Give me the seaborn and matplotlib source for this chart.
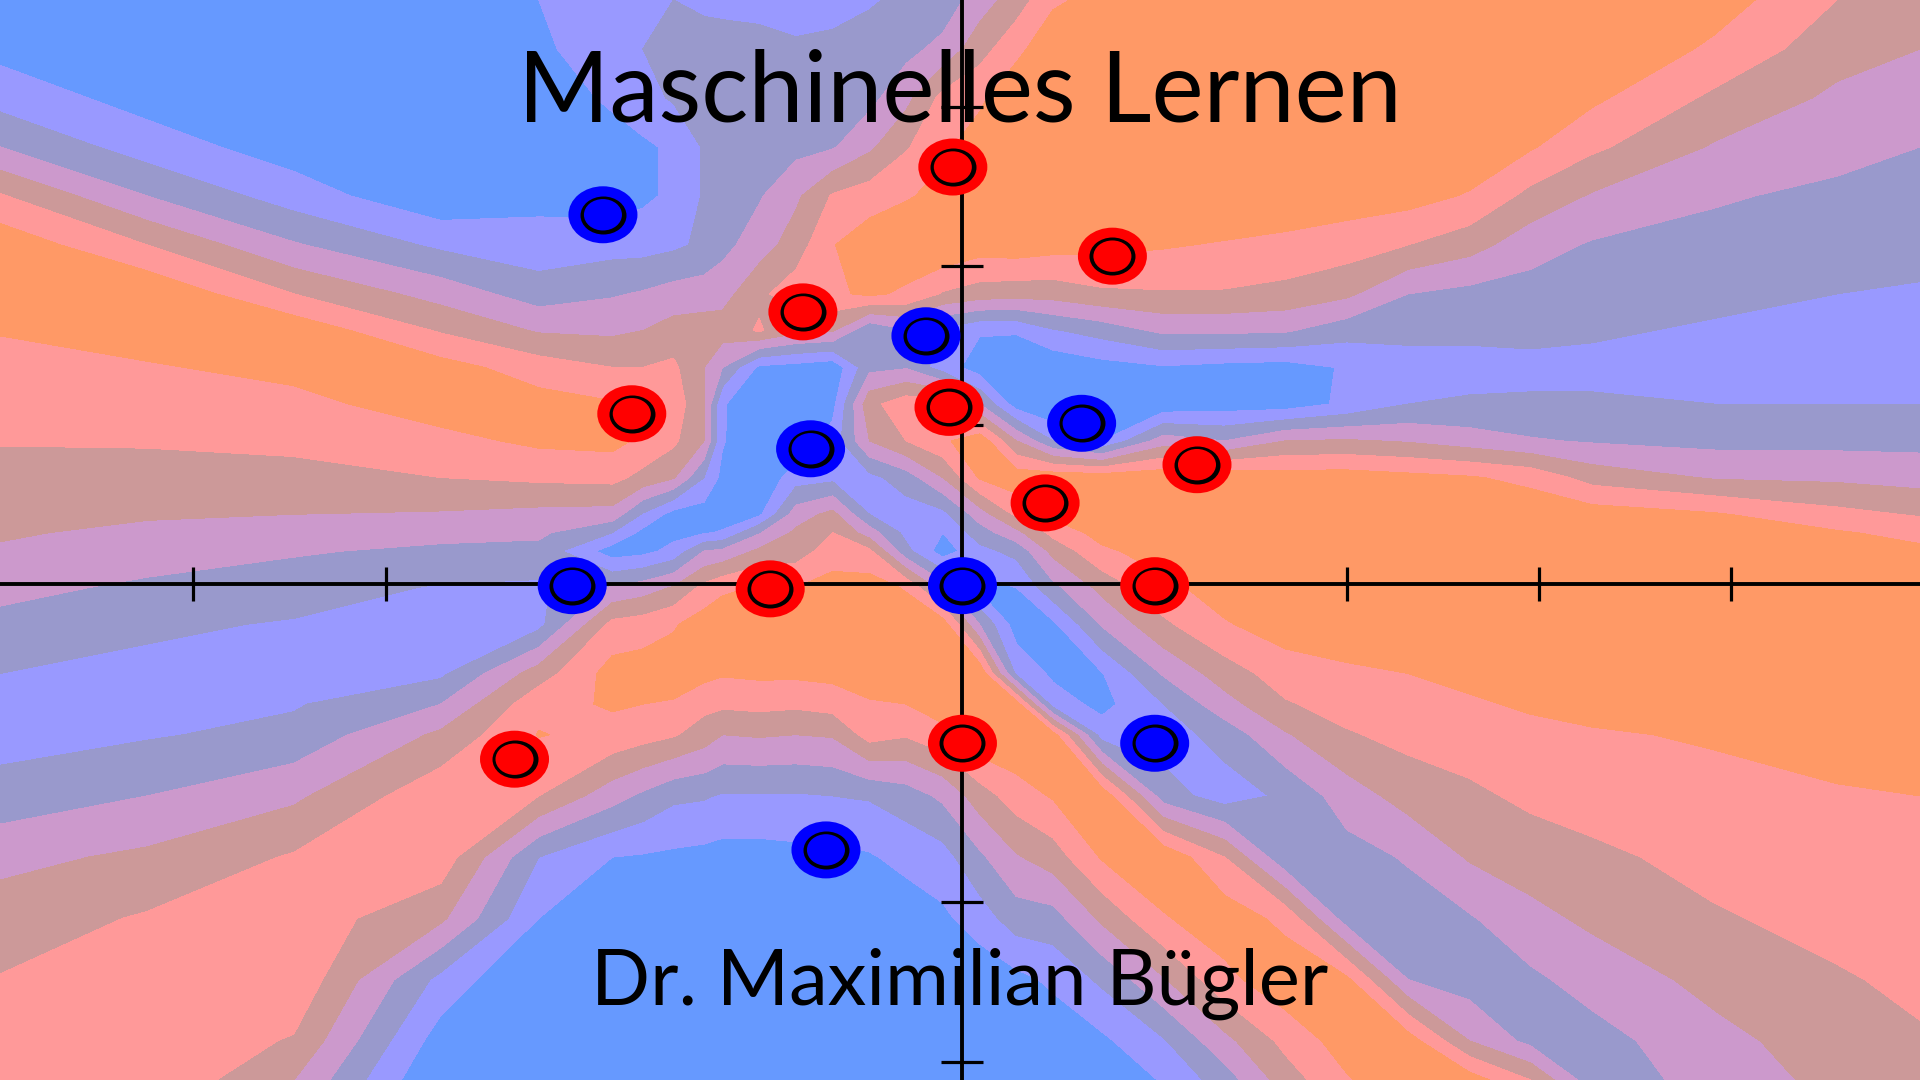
import numpy as np
import pandas as pd
import matplotlib
matplotlib.use("Agg")
import matplotlib.pyplot as plt
from matplotlib.path import Path
from matplotlib.transforms import Affine2D
import seaborn as sns

# ---- data ----
title = "Maschinelles Lernen"
subtitle = "Dr. Maximilian Bügler"

blue_x = [-1.87, -0.19, 0.62, -0.79, -2.03, 0.0, 1.0, -0.71]
blue_y = [2.32, 1.56, 1.01, 0.85, -0.01, -0.01, -1.0, -1.67]
red_x = [-0.05, 0.78, -0.83, -1.72, -0.07, 1.22, 0.43, -1.0, 1.0, -2.33, 0.0]
red_y = [2.62, 2.06, 1.71, 1.07, 1.11, 0.75, 0.51, -0.03, -0.01, -1.1, -1.0]

x_ticks = [-4, -3, -2, -1, 1, 2, 3, 4]
y_ticks = [-3, -2, -1, 1, 2, 3]

# decision surface: 0 blue ... 6 orange
band_colors = ["#6699FF", "#9999FF", "#9999CC", "#CC99CC", "#CC9999", "#FF9999", "#FF9966"]
band_edges = [-10, 0.5, 1.5, 2.5, 3.5, 4.5, 5.5, 10]

grid_x = [0, 120, 240, 360, 440, 500, 525, 550, 575, 590, 620, 650, 680, 710, 740, 770, 800,
          830, 860, 900, 950, 1000, 1050, 1100, 1150, 1200, 1250, 1300, 1400, 1500, 1568]
grid_y = [0, 40, 80, 120, 160, 200, 240, 270, 300, 330, 360, 390, 420, 435, 450, 480, 510,
          550, 575, 600, 650, 700, 750, 800, 850, 882]

# one list per grid_x entry
surface = [
    [-0.6, 0.2, 1.1, 2.5, 4.6, 6.2, 6.5, 5.55, 5.2, 4.9, 4.55, 4.2, 3.8, 3.6, 3.4, 2.8, 2.2, 1.5, 1.3, 1.1, 1.9, 3.2, 4.0, 4.55, 5.0, 5.3],
    [-1.5, -1.0, 0.1, 1.0, 2.5, 4.5, 6.4, 6.0, 5.4, 5.0, 4.6, 4.1, 3.6, 3.3, 3.0, 2.3, 1.7, 1.2, 1.2, 1.4, 2.5, 3.7, 4.6, 5.2, 5.3, 5.4],
    [-1.5, -1.5, -1.0, 0.0, 1.0, 2.6, 4.5, 6.2, 5.8, 5.2, 4.8, 4.1, 3.5, 3.1, 2.6, 2.0, 1.4, 1.1, 1.4, 1.8, 3.3, 4.6, 5.1, 5.3, 4.4, 3.5],
    [-0.6, -1.0, -1.5, -1.2, -0.3, 1.3, 3.1, 4.4, 5.9, 6.0, 5.2, 4.5, 3.4, 2.8, 2.3, 1.4, 1.2, 1.3, 2.5, 3.7, 5.2, 5.1, 3.7, 1.2, 0.0, -0.6],
    [0.5, 0.3, -0.2, -0.7, 0.2, 0.9, 2.0, 3.4, 5.0, 5.9, 5.7, 4.7, 3.2, 2.7, 2.2, 1.3, 1.2, 4.0, 5.2, 5.55, 4.5, 1.5, 0.5, -0.7, -1.3, -1.5],
    [1.3, 1.1, 0.7, 0.0, 0.0, 1.1, 2.4, 3.3, 4.5, 5.6, 5.8, 4.8, 3.1, 1.5, 0.0, 2.6, 4.8, 5.9, 5.6, 5.2, 2.9, 0.5, -0.3, -0.9, -1.3, -1.5],
    [1.4, 1.5, 1.2, 0.3, 0.3, 1.1, 2.6, 3.5, 4.5, 5.2, 5.3, 4.2, 1.4, 0.2, 0.2, 3.0, 5.0, 6.0, 5.5, 4.9, 2.3, 0.4, -0.3, -0.9, -1.3, -1.5],
    [1.5, 1.8, 1.6, 0.7, 0.7, 1.3, 2.9, 3.9, 4.7, 5.1, 4.7, 3.6, 0.1, 0.2, 0.8, 3.6, 5.4, 6.0, 5.4, 4.6, 1.7, 0.3, -0.3, -0.8, -1.2, -1.5],
    [1.3, 1.9, 1.9, 1.6, 1.6, 1.7, 3.0, 4.0, 3.5, 3.6, 3.5, 1.5, 0.0, 0.4, 2.5, 4.8, 6.0, 5.8, 4.8, 4.0, 1.6, 0.2, -0.3, -0.9, -1.3, -1.5],
    [1.3, 1.8, 2.0, 2.0, 2.0, 2.2, 3.1, 4.0, 2.5, 0.6, 0.6, 0.2, 0.0, 0.6, 2.7, 5.3, 6.2, 5.6, 4.7, 3.5, 1.4, 0.1, -0.4, -0.9, -1.3, -1.5],
    [1.3, 1.7, 2.0, 2.2, 2.4, 3.0, 4.3, 4.6, 0.3, -0.3, -0.5, -0.3, 0.3, 2.4, 3.7, 5.6, 6.3, 5.7, 4.8, 3.6, 1.4, 0.1, -0.5, -1.0, -1.4, -1.6],
    [1.2, 1.6, 2.0, 2.2, 3.3, 4.0, 5.0, 3.8, 0.1, -0.4, -0.4, 1.0, 3.0, 3.7, 4.0, 5.5, 6.3, 5.7, 4.7, 3.5, 1.4, 0.2, -0.5, -1.0, -1.4, -1.6],
    [1.2, 1.7, 1.9, 2.4, 4.6, 5.45, 5.3, 3.6, -0.2, 0.2, 0.9, 1.2, 3.8, 4.5, 5.0, 5.9, 6.3, 5.8, 4.9, 3.6, 1.5, 0.2, -0.4, -1.0, -1.4, -1.6],
    [1.4, 1.9, 2.2, 3.3, 5.0, 6.1, 5.7, 1.6, 2.2, 4.2, 3.5, 1.2, 1.5, 3.0, 4.7, 6.0, 6.4, 6.0, 5.4, 4.9, 1.6, 0.4, -0.3, -0.9, -1.4, -1.6],
    [1.7, 2.2, 3.2, 4.4, 5.4, 6.3, 5.3, 2.4, 2.4, 5.1, 4.5, 2.0, 1.0, 1.2, 1.8, 5.4, 6.2, 6.1, 5.5, 4.6, 2.0, 0.8, -0.1, -0.8, -1.3, -1.6],
    [1.9, 2.8, 4.8, 5.3, 5.8, 6.4, 4.4, 1.2, 1.0, 5.2, 5.3, 3.5, 1.2, 0.5, 0.0, 3.0, 6.0, 6.5, 6.0, 5.2, 2.7, 1.1, 0.3, -0.5, -1.1, -1.4],
    [3.0, 4.1, 5.3, 6.0, 6.4, 6.0, 4.0, 0.6, 0.0, 2.5, 6.2, 5.6, 3.0, 2.0, 1.2, 0.2, 2.5, 6.3, 6.4, 6.3, 4.0, 2.3, 1.0, -0.2, -0.9, -1.3],
    [4.0, 5.2, 6.3, 6.5, 6.5, 6.1, 3.9, 0.6, -0.3, 0.0, 3.5, 6.1, 4.7, 3.2, 1.8, 0.5, 0.0, 1.3, 6.0, 6.4, 5.0, 3.4, 2.0, 0.2, -0.6, -1.1],
    [5.3, 6.3, 6.5, 6.5, 6.5, 5.9, 3.9, 1.4, -0.3, -0.5, 1.5, 6.2, 5.8, 4.8, 3.8, 2.2, 0.3, 0.3, 1.0, 5.9, 5.6, 4.0, 2.1, 0.7, -0.2, -0.8],
    [5.9, 6.5, 6.5, 6.5, 6.5, 5.8, 4.3, 1.9, 0.1, -0.5, 0.5, 6.1, 6.2, 5.9, 5.3, 3.8, 2.6, 0.45, 0.2, 1.0, 6.2, 5.6, 3.7, 1.7, 0.3, -0.4],
    [6.5, 6.5, 6.5, 6.5, 6.5, 5.6, 4.4, 2.7, 0.4, -0.2, 3.0, 6.2, 6.5, 6.3, 6.0, 5.2, 4.3, 2.6, 1.5, 1.0, 2.0, 6.3, 5.4, 3.4, 1.4, 0.6],
    [6.5, 6.5, 6.5, 6.5, 6.5, 5.4, 4.4, 2.7, 0.2, 0.0, 2.5, 6.2, 6.5, 6.5, 6.5, 6.0, 5.4, 4.0, 3.1, 1.9, 1.0, 4.5, 6.1, 5.2, 3.2, 2.0],
    [6.5, 6.5, 6.5, 6.5, 6.3, 5.2, 4.2, 2.6, 0.1, 0.0, 3.5, 6.0, 6.5, 6.5, 6.5, 6.5, 6.0, 5.0, 4.4, 3.4, 1.7, 1.7, 5.2, 6.2, 4.8, 4.0],
    [6.5, 6.5, 6.5, 6.5, 6.0, 5.0, 3.7, 1.9, 0.6, 0.7, 3.6, 6.0, 6.5, 6.5, 6.5, 6.5, 6.2, 5.3, 4.9, 4.4, 3.0, 2.1, 2.0, 5.7, 6.0, 5.4],
    [6.5, 6.5, 6.5, 6.5, 5.9, 4.5, 2.5, 1.7, 1.2, 1.5, 3.4, 5.8, 6.4, 6.5, 6.5, 6.5, 6.2, 5.5, 5.2, 4.8, 3.9, 2.6, 2.0, 2.5, 6.0, 6.3],
    [6.5, 6.5, 6.5, 6.3, 5.4, 3.9, 2.2, 1.7, 1.2, 1.6, 3.0, 5.6, 6.4, 6.5, 6.5, 6.5, 6.4, 5.7, 5.4, 5.0, 4.3, 3.6, 2.4, 2.0, 3.5, 6.0],
    [6.5, 6.5, 6.2, 5.6, 4.2, 2.9, 2.1, 1.7, 1.3, 1.6, 2.6, 5.2, 6.2, 6.4, 6.5, 6.5, 6.5, 6.0, 5.6, 5.3, 4.7, 4.0, 3.2, 2.3, 2.2, 4.5],
    [6.5, 6.5, 5.7, 4.7, 3.4, 2.4, 2.0, 1.6, 1.3, 1.6, 2.4, 4.1, 6.0, 6.3, 6.4, 6.5, 6.5, 6.2, 5.8, 5.4, 4.9, 4.3, 3.7, 2.9, 2.1, 1.9],
    [6.0, 5.3, 4.3, 3.4, 2.6, 2.2, 1.7, 1.4, 1.2, 1.5, 2.2, 3.4, 5.6, 6.0, 6.3, 6.5, 6.5, 6.4, 6.0, 5.6, 5.2, 4.8, 4.4, 3.8, 3.2, 2.9],
    [4.5, 3.9, 3.3, 2.8, 2.3, 1.9, 1.5, 1.3, 1.2, 1.5, 2.2, 3.3, 4.8, 5.6, 6.1, 6.4, 6.5, 6.4, 6.2, 5.9, 5.4, 5.1, 4.8, 4.4, 4.0, 3.8],
    [3.9, 3.5, 3.0, 2.5, 2.1, 1.8, 1.4, 1.2, 1.2, 1.5, 2.2, 3.1, 4.4, 5.2, 5.7, 6.2, 6.5, 6.5, 6.3, 6.0, 5.5, 5.2, 5.0, 4.7, 4.4, 4.2],
]

# ---- setup ----
sns.set_theme(style="white")
plt.rcParams["font.family"] = ["Lato", "DejaVu Sans"]

fig = plt.figure(figsize=(19.2, 10.8), dpi=100)
ax = fig.add_axes([0, 0, 1, 1])

# grid was read in picture pixels (origin at 786, 477; 157 and 130 per unit)
xs = (np.array(grid_x) - 786) / 157
ys = (477 - np.array(grid_y)) / 130
ax.contourf(xs, ys, np.array(surface).T, levels=band_edges, colors=band_colors,
            antialiased=False, zorder=1)

ax.set_xlim(-786 / 157, 782 / 157)
ax.set_ylim(-405 / 130, 477 / 130)

# axes cross in the middle of the picture
ax.set_axisbelow(False)
for side in ["top", "right"]:
    ax.spines[side].set_visible(False)
for side in ["left", "bottom"]:
    ax.spines[side].set_position("zero")
    ax.spines[side].set_linewidth(2.8)
    ax.spines[side].set_color("black")
    ax.spines[side].set_zorder(2)
ax.set_xticks(x_ticks)
ax.set_yticks(y_ticks)
ax.tick_params(axis="x", direction="inout", length=24.5, width=2.3, color="black",
               bottom=True, labelbottom=False)
ax.tick_params(axis="y", direction="inout", length=30, width=2.3, color="black",
               left=True, labelleft=False)

# ---- points ----
points = pd.DataFrame({
    "x": blue_x + red_x,
    "y": blue_y + red_y,
    "label": ["blue"] * len(blue_x) + ["red"] * len(red_x),
})
palette = {"blue": "#0000FF", "red": "#FF0000"}
ellipse = Path.unit_circle().transformed(Affine2D().scale(1, 0.826))

sns.scatterplot(data=points, x="x", y="y", hue="label", palette=palette, marker=ellipse,
                s=2468, linewidth=0, legend=False, zorder=3, ax=ax)
sns.scatterplot(data=points, x="x", y="y", color="black", marker=ellipse,
                s=1097, linewidth=0, legend=False, zorder=4, ax=ax)
sns.scatterplot(data=points, x="x", y="y", hue="label", palette=palette, marker=ellipse,
                s=750, linewidth=0, legend=False, zorder=5, ax=ax)
ax.set_xlabel("")
ax.set_ylabel("")

# ---- text ----
fig.text(0.5, 1 - 121 / 1080, title, ha="center", va="baseline", fontsize=71, color="black", zorder=6)
fig.text(0.5, 1 - 1005 / 1080, subtitle, ha="center", va="baseline", fontsize=56, color="black", zorder=6)

fig.savefig("out.png", dpi=100)
plt.close(fig)
